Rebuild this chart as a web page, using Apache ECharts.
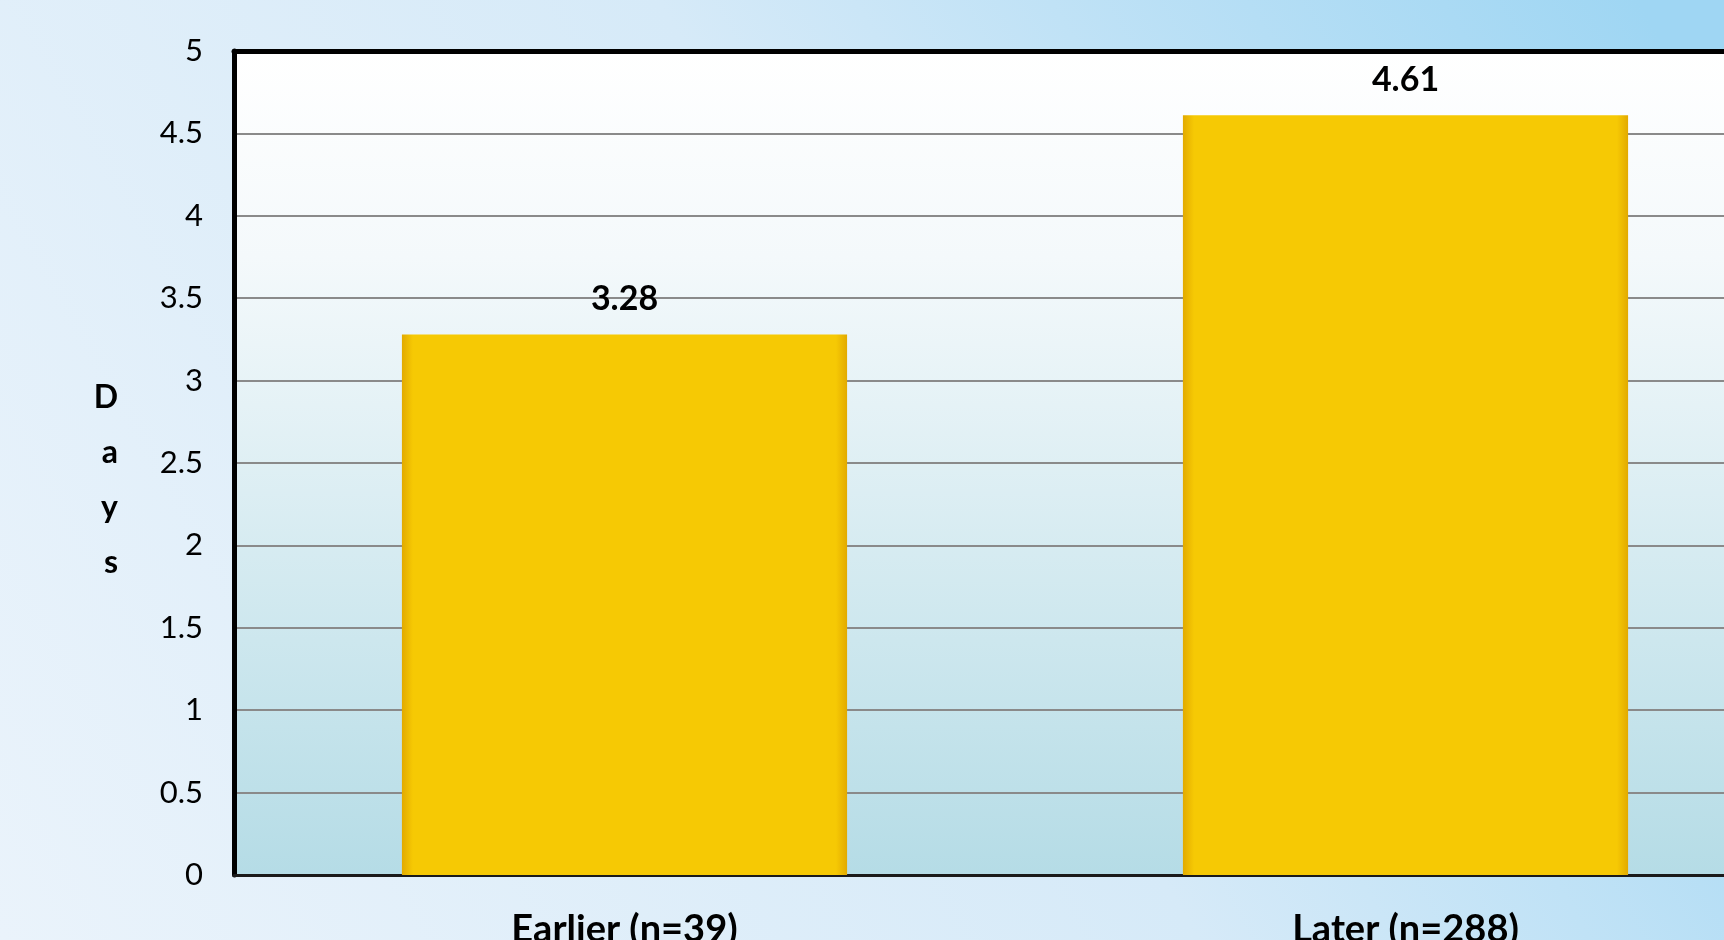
<!DOCTYPE html>
<html>
<head>
<meta charset="utf-8">
<script src="https://cdn.jsdelivr.net/npm/echarts@6/dist/echarts.min.js"></script>
<style>
  html, body { margin: 0; padding: 0; overflow: hidden; }
  #chartDays { width: 1724px; height: 940px; }
</style>
</head>
<body>
<div id="chartDays"></div>
<script>
var categories = ['Earlier (n=39)', 'Later (n=288)'];
var daysValues = [3.28, 4.61];
var yTicks = [0, 0.5, 1, 1.5, 2, 2.5, 3, 3.5, 4, 4.5, 5];

var fontName = 'Lato';
var myChart = echarts.init(document.getElementById('chartDays'));
var option = {
    backgroundColor: new echarts.graphic.LinearGradient(0.95, 0, 0, 1, [
        {offset: 0, color: '#9fd6f3'},
        {offset: 0.45, color: '#d6eaf8'},
        {offset: 1, color: '#eaf3fb'}
    ]),
    grid: {
        // plot runs past the right edge and the x labels past the bottom
        outerBoundsMode: 'none',
        left: 234,
        top: 51,
        width: 1562,
        height: 824,
        show: true,
        borderWidth: 0,
        backgroundColor: new echarts.graphic.LinearGradient(0, 0, 0, 1, [
            {offset: 0, color: '#ffffff'},
            {offset: 0.25, color: '#f4f9fb'},
            {offset: 1, color: '#b5dce6'}
        ])
    },
    xAxis: [
        {
            type: 'category',
            data: categories,
            axisLine: {show: true, lineStyle: {color: '#1a1a1a', width: 3}},
            axisTick: {show: false},
            axisLabel: {
                margin: 36,
                fontFamily: fontName,
                fontSize: 38,
                fontWeight: 'bold',
                color: '#000'
            }
        },
        {
            // top border line
            type: 'category',
            position: 'top',
            data: categories,
            axisLine: {show: true, lineStyle: {color: '#000', width: 5}},
            axisTick: {show: false},
            axisLabel: {show: false}
        }
    ],
    yAxis: {
        type: 'value',
        min: yTicks[0],
        max: yTicks[yTicks.length - 1],
        interval: 0.5,
        name: '{gap|}\n{t|D}\n{t|a}\n{t|y}\n{t|s}',
        nameLocation: 'middle',
        nameRotate: 0,
        nameGap: 116,
        nameTextStyle: {
            rich: {
                gap: {lineHeight: 34, fontSize: 10},
                t: {
                    fontFamily: fontName,
                    fontSize: 32,
                    fontWeight: 'bold',
                    color: '#000',
                    lineHeight: 55
                }
            }
        },
        axisLine: {show: true, lineStyle: {color: '#000', width: 5}},
        axisTick: {show: false},
        axisLabel: {
            margin: 31,
            fontFamily: fontName,
            fontSize: 31,
            color: '#000'
        },
        splitLine: {show: true, lineStyle: {color: '#8a8a8a', width: 2}}
    },
    series: [
        {
            name: 'Days',
            type: 'bar',
            xAxisIndex: 0,
            barWidth: '57%',
            data: daysValues,
            itemStyle: {
                color: new echarts.graphic.LinearGradient(0, 0, 1, 0, [
                    {offset: 0, color: '#e2aa00'},
                    {offset: 0.025, color: '#f6c904'},
                    {offset: 0.975, color: '#f6c904'},
                    {offset: 1, color: '#e2aa00'}
                ])
            },
            label: {
                show: true,
                position: 'top',
                distance: 18,
                fontFamily: fontName,
                fontSize: 34,
                fontWeight: 'bold',
                color: '#000',
                formatter: function (p) { return p.value.toFixed(2); }
            }
        }
    ]
};
myChart.setOption(option);
</script>
</body>
</html>
